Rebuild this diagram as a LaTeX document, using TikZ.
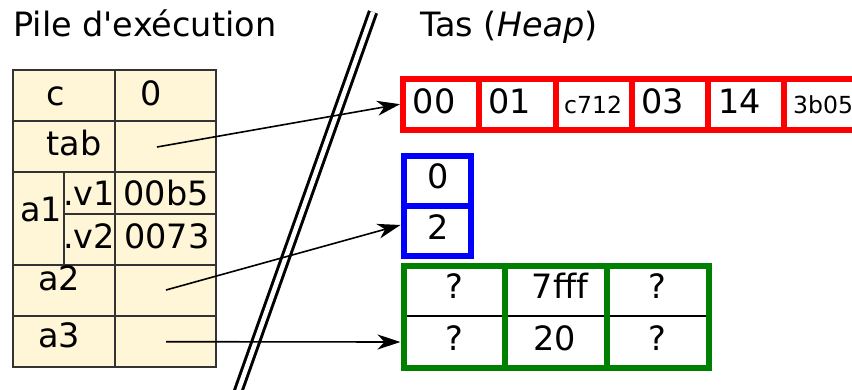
\documentclass[tikz,border=0pt]{standalone}
\usepackage{fontspec}
\setmainfont{DejaVu Sans}
\usetikzlibrary{arrows.meta}
\definecolor{cream}{HTML}{FFF5D7}
\definecolor{tblline}{HTML}{333333}
\definecolor{hgreen}{HTML}{008000}
\begin{document}
\begin{tikzpicture}[x=1pt,y=-1pt,
  big/.style={font=\fontsize{33.5}{40}\selectfont, inner sep=0pt, anchor=base},
  small/.style={font=\fontsize{23.5}{28}\selectfont, inner sep=0pt, anchor=base},
  ptr/.style={line width=1.6pt, -{Stealth[length=23pt,width=15pt,inset=7pt]}},
  heapbox/.style={line width=6pt, inner sep=0pt, outer sep=0pt, anchor=north west},
  redbox/.style={heapbox, draw=red},
  bluebox/.style={heapbox, draw=blue},
  greenbox/.style={heapbox, draw=hgreen}]
\useasboundingbox (0,0) rectangle (852,389);

% titles
\node[big, anchor=base west] (tpile) at (13,36.7) {Pile d\textquotesingle exécution};
\node[big, anchor=base west] (ttas) at (420,36.7) {Tas (\textit{Heap})};

% separator
\draw[line width=3pt, double=white, double distance=4.5pt] (373,12) -- (235,400);

% stack table
\fill[cream] (13,70) rectangle (216,367);
\draw[tblline, line width=1.3pt] (13,70) rectangle (216,367)
  (115,70) -- (115,367)
  (13,121) -- (216,121)
  (13,172) -- (216,172)
  (64,214) -- (216,214)
  (64,172) -- (64,265)
  (13,265) -- (216,265)
  (13,316) -- (216,316);
\node[big] (lc) at (56,105) {c};
\node[big] (vc) at (151,105) {0};
\node[big] (ltab) at (74,155) {tab};
\node[big] (la1) at (41,221.7) {a1};
\node[big] (lv1) at (89,205.7) {.v1};
\node[big] (vv1) at (166,205.7) {00b5};
\node[big] (lv2) at (89,248) {.v2};
\node[big] (vv2) at (167,248) {0073};
\node[big] (la2) at (59,290) {a2};
\node[big] (la3) at (59,347) {a3};
\coordinate (ptab) at (157,147);
\coordinate (pa2) at (166,290);
\coordinate (pa3) at (166,341.7);

% heap: red array
\node[redbox, minimum width=460pt, minimum height=51pt] (red) at (403,78.7) {};
\foreach \x in {479,555.5,631.5,708,784} \draw[red, line width=6pt] (\x,78.7) -- (\x,129.7);
\node[big, anchor=base west] (r0) at (412.5,113.3) {00};
\node[big, anchor=base west] (r1) at (488,113.3) {01};
\node[small, anchor=base west] (r2) at (564,113.3) {c712};
\node[big, anchor=base west] (r3) at (641,113.3) {03};
\node[big, anchor=base west] (r4) at (718,113.3) {14};
\node[small, anchor=base west] (r5) at (793,113.3) {3b05};

% heap: blue pair
\node[bluebox, minimum width=67pt, minimum height=100pt] (blue) at (403.5,156) {};
\draw[blue, line width=6pt] (403.5,205.7) -- (470.5,205.7);
\node[big] (b0) at (438,188) {0};
\node[big] (b1) at (438,239) {2};
\coordinate (bluein) at ([yshift=-19pt]blue.west);

% heap: green 2x3
\draw[black, line width=1.2pt] (403.5,316) -- (709,316);
\node[greenbox, minimum width=305.5pt, minimum height=102pt] (green) at (403.5,265.5) {};
\draw[hgreen, line width=6pt] (505,265.5) -- (505,367.5) (607,265.5) -- (607,367.5);
\node[big] (g00) at (454,298) {?};
\node[big] (g01) at (560,298) {7fff};
\node[big] (g02) at (657,298) {?};
\node[big] (g10) at (454,350) {?};
\node[big] (g11) at (555,350) {20};
\node[big] (g12) at (657,350) {?};
\coordinate (greenin) at ([yshift=-25.5pt]green.west);

% pointers
\draw[ptr] (ptab) -- ([xshift=-3pt]red.west);
\draw[ptr] (pa2) -- ([xshift=-3pt]bluein);
\draw[ptr] (pa3) -- ([xshift=-3pt]greenin);
\end{tikzpicture}
\end{document}
